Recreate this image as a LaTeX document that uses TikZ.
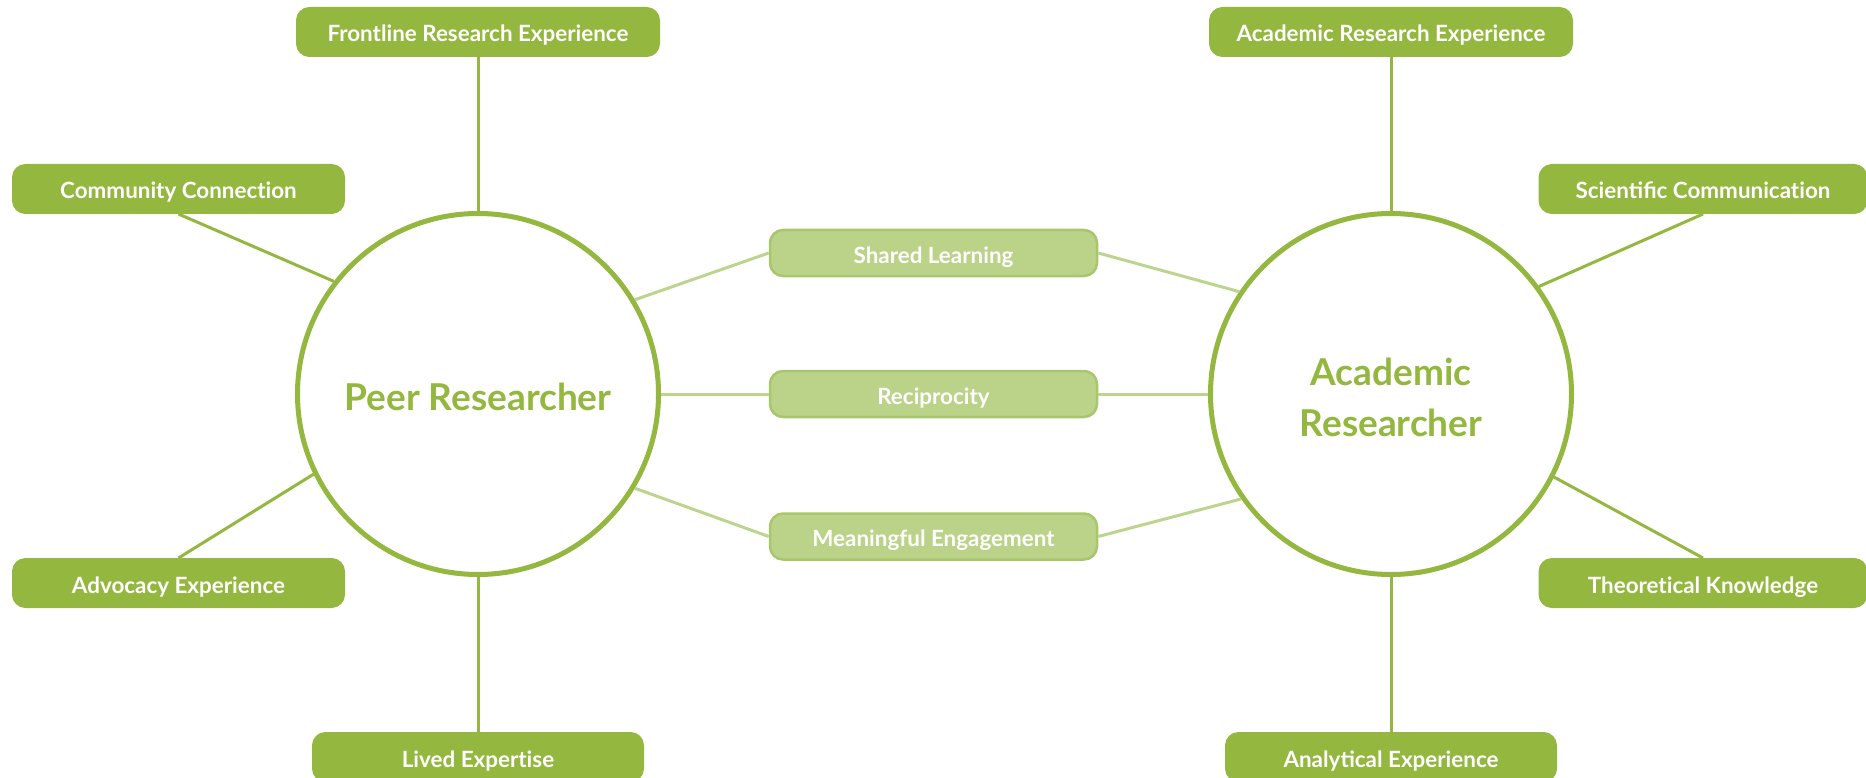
\documentclass[tikz,border=0pt]{standalone}
\usepackage{fontspec}
\setmainfont{Lato}
\newcommand\tiX{t\kern0pt i}
\definecolor{dgreen}{HTML}{93B73F}
\definecolor{lfill}{HTML}{BAD388}
\definecolor{lborder}{HTML}{A8C66C}
\definecolor{lline}{HTML}{BCD58E}
\begin{document}
\begin{tikzpicture}[x=1pt,y=-1pt,
  boxfont/.style={font=\fontsize{22.4}{26}\selectfont\bfseries,text height=22pt,text depth=2pt},
  darkbox/.style={draw=dgreen,fill=dgreen,rounded corners=13pt,line width=1pt,
    minimum height=49pt,text=white,boxfont,inner sep=0pt},
  lightbox/.style={draw=lborder,fill=lfill,rounded corners=13pt,line width=2.5pt,
    minimum width=327pt,minimum height=46pt,text=white,boxfont,inner sep=0pt},
  bigcircle/.style={circle,draw=dgreen,line width=5pt,fill=white,minimum size=361pt,inner sep=0pt},
  bigtext/.style={text=dgreen,font=\fontsize{37}{51}\selectfont\bfseries,align=center,inner sep=0pt},
  darkline/.style={draw=dgreen,line width=3pt},
  lightline/.style={draw=lline,line width=3pt}]
\useasboundingbox (0,0) rectangle (1866,778);
% circles
\node[bigcircle] (pr) at (478,394) {};
\node[bigcircle] (ar) at (1391,394) {};
\node[bigtext,yshift=-3pt] (prt) at (pr.center) {Peer Researcher};
\node[bigtext,yshift=-3pt] (art) at (ar.center) {Academic\\Researcher};
% dark boxes left
\node[darkbox,minimum width=363pt] (fre) at (478,32) {Frontline Research Experience};
\node[darkbox,minimum width=332pt] (cc) at (178.5,189) {Community Connec\tiX on};
\node[darkbox,minimum width=332pt] (ae) at (178.5,583) {Advocacy Experience};
\node[darkbox,minimum width=331pt] (le) at (478,757) {Lived Exper\tiX se};
% dark boxes right
\node[darkbox,minimum width=363pt] (are) at (1391,32) {Academic Research Experience};
\node[darkbox,minimum width=328pt] (sc) at (1703,189) {Scientific Communica\tiX on};
\node[darkbox,minimum width=328pt] (tk) at (1703,583) {Theore\tiX cal Knowledge};
\node[darkbox,minimum width=331pt] (ane) at (1391,757) {Analytical Experience};
% light boxes
\node[lightbox] (sl) at (933.5,253) {Shared Learning};
\node[lightbox] (rc) at (933.5,394) {Reciprocity};
\node[lightbox] (me) at (933.5,536.5) {Meaningful Engagement};
% connectors
\draw[darkline] (fre.south) -- (pr.north);
\draw[darkline] (cc.south) -- (pr.142.3);
\draw[darkline] (ae.north) -- (pr.206.8);
\draw[darkline] (le.north) -- (pr.south);
\draw[darkline] (are.south) -- (ar.north);
\draw[darkline] (sc.south) -- (ar.36.6);
\draw[darkline] (tk.north) -- (ar.-27.5);
\draw[darkline] (ane.north) -- (ar.south);
\draw[lightline] (pr.31.3) -- (sl.west);
\draw[lightline] (pr.east) -- (rc.west);
\draw[lightline] (pr.-31.3) -- (me.west);
\draw[lightline] (sl.east) -- (ar.146.7);
\draw[lightline] (rc.east) -- (ar.west);
\draw[lightline] (me.east) -- (ar.215.8);
\end{tikzpicture}
\end{document}
